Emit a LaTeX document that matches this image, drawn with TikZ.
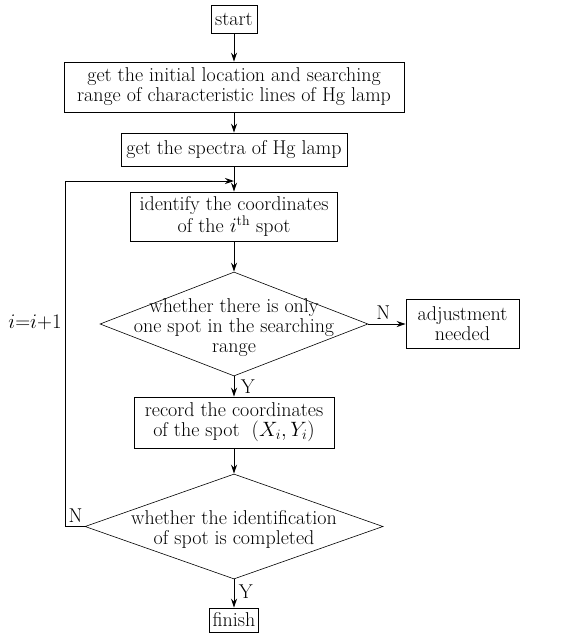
\documentclass[tikz,border=0pt]{standalone}
\usepackage{fontspec}
\usepackage{tikz}
\usetikzlibrary{arrows.meta, shapes.geometric}

\begin{document}
\begin{tikzpicture}[x=1pt, y=-1pt, font=\fontsize{20}{20}\selectfont,
        box/.style={draw, line width=0.6pt, inner sep=1pt, align=center},
        test/.style={diamond, draw, line width=0.6pt, inner sep=0pt},
        flow/.style={->, >={Stealth[length=9pt, width=6pt, inset=3pt]}, line width=1pt}]
        \useasboundingbox (0,0) rectangle (571,634);

        \node [box, minimum width=46, minimum height=28] (start) at (234,19) {start};
        \node [box, minimum width=340, minimum height=50] (getloc) at (234,87)
            {get the initial location and searching\\range of characteristic lines of Hg lamp};
        \node [box, minimum width=226, minimum height=33] (spectra) at (234,149.5) {get the spectra of Hg lamp};
        \node [box, minimum width=207, minimum height=49] (identify) at (234,216.5)
            {identify the coordinates\\of the $i^{\mathrm{th}}$ spot};
        \node [test, minimum width=268, minimum height=104] (onespot) at (234,324) {};
        \node [align=center] at (234,328) {whether there is only\\one spot in the searching\\range};
        \node [box, minimum width=113, minimum height=49] (adjust) at (462.5,324) {adjustment\\needed};
        \node [box, minimum width=200, minimum height=51] (record) at (234,422.5)
            {record the coordinates\\of the spot\ \ $(X_i,Y_i)$};
        \node [test, minimum width=298, minimum height=105] (complete) at (234,526.5) {};
        \node [align=center] at (234,529) {whether the identification\\of spot is completed};
        \node [box, minimum width=49, minimum height=24] (finish) at (234,620) {finish};

        \coordinate (join) at (234,181);
        \coordinate (back) at (65,526.5);

        \draw [flow] (start) -- (getloc);
        \draw [flow] (getloc) -- (spectra);
        \draw [flow] (spectra) -- (identify);
        \draw [flow] (identify) -- (onespot);
        \draw [flow] (onespot.east) -- (adjust.west) node [pos=0.4, above=1pt] {N};
        \draw [flow] (onespot.south) -- (record.north) node [pos=0.5, right=3pt] {Y};
        \draw [flow] (record) -- (complete);
        \draw [flow] (complete.south) -- (finish.north) node [pos=0.45, right=1pt] {Y};
        \draw [flow] (complete.west) -- (back) |- (join);
        \node [above right] at (back) {N};
        \node at (35,322) {$i{=}i{+}1$};
    \end{tikzpicture}
\end{document}
